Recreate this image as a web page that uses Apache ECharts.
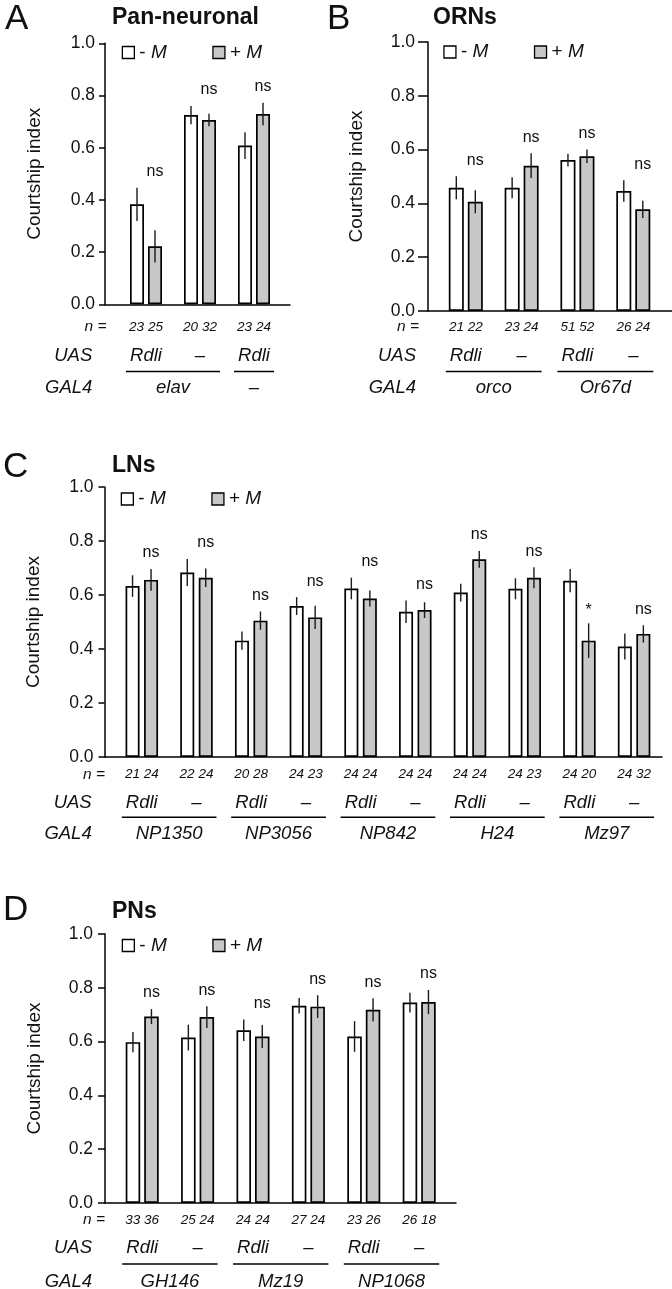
<!DOCTYPE html>
<html><head><meta charset="utf-8">
<script src="https://cdn.jsdelivr.net/npm/echarts@6/dist/echarts.min.js"></script>
<style>html,body{margin:0;padding:0;background:#fff}#c{width:672px;height:1289px}</style>
</head><body><div id="c"></div>
<script>
// ---------------- data ----------------
// Panel A: Pan-neuronal
const aN = ['23 25', '20 32', '23 24'];
const aUAS = ['Rdli', '–', 'Rdli'];
const aGAL4 = ['elav', '–'];
const aGAL4Span = [[0, 1], [2, 2]];
const aMinus = [0.383, 0.725, 0.608];
const aMinusErr = [0.064, 0.035, 0.051];
const aPlus = [0.222, 0.706, 0.729];
const aPlusErr = [0.062, 0.024, 0.043];
const aSig = ['ns', 'ns', 'ns'];

// Panel B: ORNs
const bN = ['21 22', '23 24', '51 52', '26 24'];
const bUAS = ['Rdli', '–', 'Rdli', '–'];
const bGAL4 = ['orco', 'Or67d'];
const bGAL4Span = [[0, 1], [2, 3]];
const bMinus = [0.458, 0.458, 0.561, 0.446];
const bMinusErr = [0.043, 0.039, 0.024, 0.040];
const bPlus = [0.406, 0.540, 0.575, 0.378];
const bPlusErr = [0.043, 0.046, 0.025, 0.032];
const bSig = ['ns', 'ns', 'ns', 'ns'];

// Panel C: LNs
const cN = ['21 24', '22 24', '20 28', '24 23', '24 24', '24 24', '24 24', '24 23', '24 20', '24 32'];
const cUAS = ['Rdli', '–', 'Rdli', '–', 'Rdli', '–', 'Rdli', '–', 'Rdli', '–'];
const cGAL4 = ['NP1350', 'NP3056', 'NP842', 'H24', 'Mz97'];
const cGAL4Span = [[0, 1], [2, 3], [4, 5], [6, 7], [8, 9]];
const cMinus = [0.633, 0.683, 0.431, 0.559, 0.624, 0.538, 0.609, 0.623, 0.653, 0.409];
const cMinusErr = [0.040, 0.050, 0.034, 0.033, 0.040, 0.042, 0.033, 0.039, 0.043, 0.048];
const cPlus = [0.656, 0.664, 0.505, 0.517, 0.587, 0.544, 0.732, 0.664, 0.431, 0.456];
const cPlusErr = [0.040, 0.034, 0.034, 0.043, 0.030, 0.029, 0.031, 0.039, 0.064, 0.032];
const cSig = ['ns', 'ns', 'ns', 'ns', 'ns', 'ns', 'ns', 'ns', '*', 'ns'];

// Panel D: PNs
const dN = ['33 36', '25 24', '24 24', '27 24', '23 26', '26 18'];
const dUAS = ['Rdli', '–', 'Rdli', '–', 'Rdli', '–'];
const dGAL4 = ['GH146', 'Mz19', 'NP1068'];
const dGAL4Span = [[0, 1], [2, 3], [4, 5]];
const dMinus = [0.598, 0.615, 0.642, 0.733, 0.619, 0.745];
const dMinusErr = [0.038, 0.048, 0.040, 0.029, 0.057, 0.037];
const dPlus = [0.693, 0.691, 0.619, 0.730, 0.718, 0.747];
const dPlusErr = [0.028, 0.040, 0.043, 0.042, 0.043, 0.045];
const dSig = ['ns', 'ns', 'ns', 'ns', 'ns', 'ns'];

const seriesNames = ['- M', '+ M'];
const yAxisTitle = 'Courtship index';
const rowHeaders = ['n =', 'UAS', 'GAL4'];

// ---------------- layout / style ----------------
const FONT = "'Liberation Sans', Arial, Helvetica, sans-serif";
const INK = '#111';
const GRAY = '#c8c8c8';

const panels = [
  { letter: 'A', title: 'Pan-neuronal', n: aN, uas: aUAS, gal4: aGAL4, span: aGAL4Span,
    minus: aMinus, minusErr: aMinusErr, plus: aPlus, plusErr: aPlusErr, sig: aSig,
    L: { left: 105, top: 43.3, width: 185, height: 261, firstPx: 146, spacing: 54,
         barW: 14, gapPx: 4, letterPos: [5, 1.7], titlePos: [112, 6.5], legendPos: [121.7, 42.5],
         labelMargin: 10, tickLen: 6, nameGap: 61,
         rows: { n: 22.7, uas: 51.7, line: 67.2, gal: 83.7 }, nHeadDx: 1.5, headDx: -12.7 } },
  { letter: 'B', title: 'ORNs', n: bN, uas: bUAS, gal4: bGAL4, span: bGAL4Span,
    minus: bMinus, minusErr: bMinusErr, plus: bPlus, plusErr: bPlusErr, sig: bSig,
    L: { left: 428, top: 42, width: 244, height: 269, firstPx: 465.8, spacing: 55.83,
         barW: 15, gapPx: 4, letterPos: [327, 1.5], titlePos: [433, 6.5], legendPos: [443.3, 42],
         labelMargin: 13, tickLen: 10, nameGap: 62,
         rows: { n: 16, uas: 45, line: 60.5, gal: 77 }, nHeadDx: -9, headDx: -12 } },
  { letter: 'C', title: 'LNs', n: cN, uas: cUAS, gal4: cGAL4, span: cGAL4Span,
    minus: cMinus, minusErr: cMinusErr, plus: cPlus, plusErr: cPlusErr, sig: cSig,
    L: { left: 104.5, top: 487, width: 557.5, height: 270, firstPx: 141.8, spacing: 54.7,
         barW: 14, gapPx: 4.5, letterPos: [3, 450], titlePos: [112, 454.5], legendPos: [120.7, 489],
         labelMargin: 11, tickLen: 6, nameGap: 61,
         rows: { n: 17.3, uas: 46.3, line: 60.3, gal: 77.3 }, nHeadDx: 0.5, headDx: -12.8 } },
  { letter: 'D', title: 'PNs', n: dN, uas: dUAS, gal4: dGAL4, span: dGAL4Span,
    minus: dMinus, minusErr: dMinusErr, plus: dPlus, plusErr: dPlusErr, sig: dSig,
    L: { left: 105, top: 934, width: 351, height: 269, firstPx: 142.2, spacing: 55.4,
         barW: 14.5, gapPx: 4, letterPos: [3, 892.5], titlePos: [112, 900], legendPos: [121.7, 935.5],
         labelMargin: 12, tickLen: 7, nameGap: 61,
         rows: { n: 17, uas: 45.3, line: 61, gal: 78.7 }, nHeadDx: 0, headDx: -13 } }
];

const grids = [], xAxes = [], yAxes = [], series = [], legends = [], titles = [];

panels.forEach((p, idx) => {
  const L = p.L;
  const xMin = -(L.firstPx - L.left) / L.spacing;
  const xMax = xMin + L.width / L.spacing;
  const off = (L.barW + L.gapPx) / 2;
  const R = L.rows;

  grids.push({ left: L.left, top: L.top, width: L.width, height: L.height, containLabel: false, outerBoundsMode: 'none' });
  xAxes.push({ gridIndex: idx, type: 'value', min: xMin, max: xMax,
    axisLine: { show: true, onZero: false, lineStyle: { color: '#000', width: 1.5 } },
    axisTick: { show: false }, axisLabel: { show: false }, splitLine: { show: false } });
  yAxes.push({ gridIndex: idx, type: 'value', min: 0, max: 1, interval: 0.2,
    name: yAxisTitle, nameLocation: 'middle', nameGap: L.nameGap,
    nameTextStyle: { fontSize: 19, color: INK, fontFamily: FONT },
    axisLine: { show: true, onZero: false, lineStyle: { color: '#000', width: 1.5 } },
    axisTick: { show: true, length: L.tickLen, lineStyle: { color: '#000', width: 1.5 } },
    axisLabel: { margin: L.labelMargin, fontSize: 17.5, color: INK, fontFamily: FONT, formatter: v => v.toFixed(1) },
    splitLine: { show: false } });

  const gapPct = (L.gapPx / L.barW * 100) + '%';
  series.push({ name: seriesNames[0], type: 'bar', xAxisIndex: idx, yAxisIndex: idx, barWidth: L.barW, barGap: gapPct,
    data: p.minus.map((v, i) => [i, v]), silent: true, z: 2,
    itemStyle: { color: '#fff', borderColor: '#000', borderWidth: 1.7 } });
  series.push({ name: seriesNames[1], type: 'bar', xAxisIndex: idx, yAxisIndex: idx, barWidth: L.barW, barGap: gapPct,
    data: p.plus.map((v, i) => [i, v]), silent: true, z: 2,
    itemStyle: { color: GRAY, borderColor: '#000', borderWidth: 1.7 } });

  // error bars
  const errData = [];
  p.minus.forEach((v, i) => errData.push([i, v, p.minusErr[i], -1]));
  p.plus.forEach((v, i) => errData.push([i, v, p.plusErr[i], 1]));
  series.push({ type: 'custom', xAxisIndex: idx, yAxisIndex: idx, silent: true, z: 5, clip: false, data: errData,
    renderItem: (params, api) => {
      const x = api.value(0), m = api.value(1), e = api.value(2), s = api.value(3);
      const a = api.coord([x, m + e]), b = api.coord([x, m - e]);
      const px = a[0] + s * off;
      return { type: 'line', shape: { x1: px, y1: a[1], x2: px, y2: b[1] }, style: { stroke: '#1a1a1a', lineWidth: 1.4 } };
    } });

  // significance labels
  const sigData = p.sig.map((s, i) => {
    const up = s === 'ns' ? Math.max(p.minus[i] + p.minusErr[i], p.plus[i] + p.plusErr[i]) : p.plus[i] + p.plusErr[i];
    return [i, up];
  });
  series.push({ type: 'custom', xAxisIndex: idx, yAxisIndex: idx, silent: true, z: 6, clip: false, data: sigData,
    renderItem: (params, api) => {
      const c = api.coord([api.value(0), api.value(1)]);
      const s = p.sig[params.dataIndex];
      return { type: 'text', style: { text: s, x: c[0] + off, y: c[1] - (s === 'ns' ? 16 : 13),
        fill: INK, font: '16px ' + FONT, align: 'center', verticalAlign: 'middle' } };
    } });

  // n and UAS rows
  series.push({ type: 'custom', xAxisIndex: idx, yAxisIndex: idx, silent: true, z: 6, clip: false,
    data: p.n.map((_, i) => [i, 0]),
    renderItem: (params, api) => {
      const c = api.coord([api.value(0), 0]);
      const i = params.dataIndex;
      return { type: 'group', children: [
        { type: 'text', style: { text: p.n[i], x: c[0], y: c[1] + R.n, fill: INK, font: 'italic 13.5px ' + FONT, align: 'center', verticalAlign: 'middle' } },
        { type: 'text', style: { text: p.uas[i], x: c[0], y: c[1] + R.uas, fill: INK, font: 'italic 18.5px ' + FONT, align: 'center', verticalAlign: 'middle' } }
      ] };
    } });

  // GAL4 row with underlines
  series.push({ type: 'custom', xAxisIndex: idx, yAxisIndex: idx, silent: true, z: 6, clip: false,
    data: p.span.map(s => [s[0], s[1]]),
    renderItem: (params, api) => {
      const a = api.coord([api.value(0), 0]), b = api.coord([api.value(1), 0]);
      const i = params.dataIndex;
      return { type: 'group', children: [
        { type: 'line', shape: { x1: a[0] - 20, y1: a[1] + R.line, x2: b[0] + 20, y2: a[1] + R.line }, style: { stroke: '#000', lineWidth: 1.5 } },
        { type: 'text', style: { text: p.gal4[i], x: (a[0] + b[0]) / 2, y: a[1] + R.gal, fill: INK, font: 'italic 18.5px ' + FONT, align: 'center', verticalAlign: 'middle' } }
      ] };
    } });

  // row headers
  series.push({ type: 'custom', xAxisIndex: idx, yAxisIndex: idx, silent: true, z: 6, clip: false,
    data: [[xMin, 0]],
    renderItem: (params, api) => {
      const c = api.coord([api.value(0), 0]);
      return { type: 'group', children: [
        { type: 'text', style: { text: rowHeaders[0], x: c[0] + L.nHeadDx, y: c[1] + R.n, fill: INK, font: 'italic 15.5px ' + FONT, align: 'right', verticalAlign: 'middle' } },
        { type: 'text', style: { text: rowHeaders[1], x: c[0] + L.headDx, y: c[1] + R.uas, fill: INK, font: 'italic 18.5px ' + FONT, align: 'right', verticalAlign: 'middle' } },
        { type: 'text', style: { text: rowHeaders[2], x: c[0] + L.headDx, y: c[1] + R.gal, fill: INK, font: 'italic 18.5px ' + FONT, align: 'right', verticalAlign: 'middle' } }
      ] };
    } });

  legends.push({ left: L.legendPos[0], top: L.legendPos[1], padding: 0, itemWidth: 12, itemHeight: 12, itemGap: 45.5,
    icon: 'rect', selectedMode: false,
    data: [
      { name: seriesNames[0], itemStyle: { color: '#fff', borderColor: '#000', borderWidth: 1.3 } },
      { name: seriesNames[1], itemStyle: { color: GRAY, borderColor: '#000', borderWidth: 1.3 } }
    ],
    formatter: n => n.charAt(0) + ' {i|M}',
    textStyle: { fontSize: 19, color: INK, fontFamily: FONT, lineHeight: 20,
      rich: { i: { fontStyle: 'italic', fontSize: 19, color: INK, fontFamily: FONT, lineHeight: 20 } } } });

  titles.push({ text: p.letter, left: L.letterPos[0], top: L.letterPos[1], padding: 0,
    textStyle: { fontSize: 35, fontWeight: 'normal', color: INK, fontFamily: FONT } });
  titles.push({ text: p.title, left: L.titlePos[0], top: L.titlePos[1], padding: 0,
    textStyle: { fontSize: 23, fontWeight: 'bold', color: INK, fontFamily: FONT } });
});

const chart = echarts.init(document.getElementById('c'), null, { renderer: 'canvas' });
chart.setOption({
  animation: false,
  backgroundColor: '#fff',
  textStyle: { fontFamily: FONT },
  title: titles,
  legend: legends,
  grid: grids,
  xAxis: xAxes,
  yAxis: yAxes,
  series: series
});
</script>
</body></html>
